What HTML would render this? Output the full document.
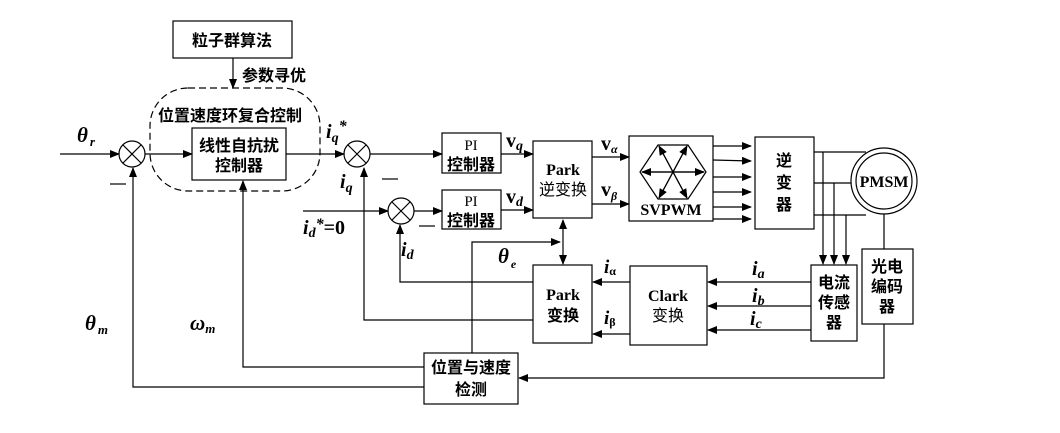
<!DOCTYPE html>
<html><head><meta charset="utf-8"><style>
body{margin:0;background:#fff}
svg{display:block}
.cn{font-family:"Liberation Serif","Noto Sans CJK SC",sans-serif;font-weight:bold;font-size:16px}
.it{font-family:"Liberation Serif",serif;font-weight:bold;font-style:italic}
.rb{font-family:"Liberation Serif",serif;font-weight:bold}
</style></head><body>
<svg width="1060" height="433" viewBox="0 0 1060 433" xmlns="http://www.w3.org/2000/svg">
<defs><marker id="a" markerWidth="10" markerHeight="8" refX="9" refY="4" orient="auto" markerUnits="userSpaceOnUse"><path d="M0,0 L10,4 L0,8z" fill="#000"/></marker></defs>
<g stroke="#000" stroke-width="1.2" fill="none">
<rect x="173" y="21" width="119" height="37" fill="#fff"/>
<line x1="233" y1="58" x2="233" y2="88" marker-end="url(#a)"/>
<rect x="150" y="88" width="170" height="103" rx="38" stroke-dasharray="7,4"/>
<rect x="192" y="128" width="94" height="52"/>
<circle cx="132" cy="154" r="13"/><path d="M123,145 L141,163 M141,145 L123,163"/>
<circle cx="357" cy="154" r="13"/><path d="M348,145 L366,163 M366,145 L348,163"/>
<circle cx="401" cy="211" r="13"/><path d="M392,202 L410,220 M410,202 L392,220"/>
<line x1="60" y1="154" x2="119" y2="154" marker-end="url(#a)"/>
<line x1="145" y1="154" x2="192" y2="154" marker-end="url(#a)"/>
<line x1="286" y1="154" x2="344" y2="154" marker-end="url(#a)"/>
<line x1="370" y1="154" x2="442" y2="154" marker-end="url(#a)"/>
<line x1="303" y1="211" x2="388" y2="211" marker-end="url(#a)"/>
<line x1="414" y1="211" x2="442" y2="211" marker-end="url(#a)"/>
<rect x="442" y="133" width="59" height="40"/>
<rect x="442" y="190" width="59" height="39"/>
<line x1="501" y1="154" x2="533" y2="154" marker-end="url(#a)"/>
<line x1="501" y1="210" x2="533" y2="210" marker-end="url(#a)"/>
<rect x="533" y="141" width="59" height="77"/>
<line x1="592" y1="157" x2="629" y2="157" marker-end="url(#a)"/>
<line x1="592" y1="204" x2="629" y2="204" marker-end="url(#a)"/>
<rect x="629" y="136" width="84" height="85"/>
<polygon points="640,172 658,145 688,145 706,172 688,199 658,199"/>
<line x1="642" y1="172" x2="704" y2="172" marker-end="url(#a)"/>
<line x1="704" y1="172" x2="642" y2="172" marker-end="url(#a)"/>
<line x1="659" y1="198" x2="687" y2="146" marker-end="url(#a)"/>
<line x1="687" y1="146" x2="659" y2="198" marker-end="url(#a)"/>
<line x1="659" y1="146" x2="687" y2="198" marker-end="url(#a)"/>
<line x1="687" y1="198" x2="659" y2="146" marker-end="url(#a)"/>
<line x1="713" y1="146" x2="751" y2="146" marker-end="url(#a)"/>
<line x1="713" y1="160" x2="751" y2="161" marker-end="url(#a)"/>
<line x1="713" y1="177" x2="751" y2="177" marker-end="url(#a)"/>
<line x1="713" y1="192" x2="751" y2="192" marker-end="url(#a)"/>
<line x1="713" y1="207" x2="751" y2="207" marker-end="url(#a)"/>
<line x1="713" y1="219" x2="751" y2="219" marker-end="url(#a)"/>
<rect x="755" y="137" width="59" height="92"/>
<circle cx="884" cy="181" r="33"/><circle cx="884" cy="181" r="28"/>
<line x1="814" y1="152" x2="866" y2="152"/>
<line x1="814" y1="183" x2="851" y2="183"/>
<line x1="814" y1="215" x2="866" y2="215"/>
<line x1="823" y1="152" x2="823" y2="264" marker-end="url(#a)"/>
<line x1="834" y1="183" x2="834" y2="264" marker-end="url(#a)"/>
<line x1="846" y1="215" x2="846" y2="264" marker-end="url(#a)"/>
<line x1="884" y1="214" x2="884" y2="249"/>
<rect x="862" y="249" width="51" height="75"/>
<rect x="811" y="265" width="46" height="76"/>
<rect x="630" y="266" width="77" height="79"/>
<rect x="533" y="265" width="59" height="78"/>
<line x1="811" y1="282" x2="708" y2="282" marker-end="url(#a)"/>
<line x1="811" y1="306" x2="708" y2="306" marker-end="url(#a)"/>
<line x1="811" y1="330" x2="708" y2="330" marker-end="url(#a)"/>
<line x1="630" y1="282" x2="593" y2="282" marker-end="url(#a)"/>
<line x1="630" y1="334" x2="593" y2="334" marker-end="url(#a)"/>
<line x1="563" y1="240" x2="563" y2="220" marker-end="url(#a)"/>
<line x1="563" y1="240" x2="563" y2="264" marker-end="url(#a)"/>
<polyline points="472,353 472,242 560,242" marker-end="url(#a)"/>
<polyline points="533,282 400,282 400,225" marker-end="url(#a)"/>
<polyline points="533,320 364,320 364,168" marker-end="url(#a)"/>
<rect x="424" y="353" width="94" height="51"/>
<polyline points="884,324 884,378 519,378" marker-end="url(#a)"/>
<polyline points="424,367 243,367 243,181" marker-end="url(#a)"/>
<polyline points="424,387 133,387 133,168" marker-end="url(#a)"/>
<line x1="110" y1="184" x2="126" y2="184"/>
<line x1="382" y1="179" x2="398" y2="179"/>
<line x1="419" y1="226" x2="435" y2="226"/>
</g>
<g fill="#000">
<text class="cn" x="232" y="46" text-anchor="middle">粒子群算法</text>
<text class="cn" x="242" y="81" font-size="15">参数寻优</text>
<text class="cn" x="158" y="121">位置速度环复合控制</text>
<text class="cn" x="239" y="151" text-anchor="middle">线性自抗扰</text>
<text class="cn" x="239" y="171" text-anchor="middle">控制器</text>
<text class="rb" x="471" y="150" text-anchor="middle" font-size="15" style="font-weight:normal">PI</text>
<text class="cn" x="471" y="170" text-anchor="middle">控制器</text>
<text class="rb" x="471" y="206" text-anchor="middle" font-size="15" style="font-weight:normal">PI</text>
<text class="cn" x="471" y="226" text-anchor="middle">控制器</text>
<text class="rb" x="563" y="175" text-anchor="middle" font-size="16">Park</text>
<text class="cn" x="563" y="195" text-anchor="middle" style="font-weight:normal">逆变换</text>
<text class="rb" x="671" y="215" text-anchor="middle" font-size="16">SVPWM</text>
<text class="cn" x="784" y="166" text-anchor="middle" font-size="17">逆</text>
<text class="cn" x="784" y="188" text-anchor="middle" font-size="17">变</text>
<text class="cn" x="784" y="210" text-anchor="middle" font-size="17">器</text>
<text class="rb" x="884" y="187" text-anchor="middle" font-size="16">PMSM</text>
<text class="cn" x="887" y="272" text-anchor="middle">光电</text>
<text class="cn" x="887" y="292" text-anchor="middle">编码</text>
<text class="cn" x="887" y="312" text-anchor="middle">器</text>
<text class="cn" x="834" y="288" text-anchor="middle">电流</text>
<text class="cn" x="834" y="308" text-anchor="middle">传感</text>
<text class="cn" x="834" y="328" text-anchor="middle">器</text>
<text class="rb" x="668" y="301" text-anchor="middle" font-size="16">Clark</text>
<text class="cn" x="668" y="321" text-anchor="middle" style="font-weight:normal">变换</text>
<text class="rb" x="563" y="300" text-anchor="middle" font-size="16">Park</text>
<text class="cn" x="563" y="321" text-anchor="middle">变换</text>
<text class="cn" x="471" y="373" text-anchor="middle">位置与速度</text>
<text class="cn" x="471" y="395" text-anchor="middle">检测</text>
<text class="it" x="77" y="142" font-size="21">θ<tspan font-size="13" dx="2" dy="4">r</tspan></text>
<text class="it" x="85" y="330" font-size="21">θ<tspan font-size="13" dx="2" dy="4">m</tspan></text>
<text class="it" x="190" y="330" font-size="21">ω<tspan font-size="13" dy="3">m</tspan></text>
<text class="it" x="326" y="138" font-size="20">i<tspan font-size="14" dy="4">q</tspan><tspan font-size="16" dy="-11">*</tspan></text>
<text class="it" x="340" y="188" font-size="20">i<tspan font-size="14" dy="4">q</tspan></text>
<text class="it" x="303" y="234" font-size="20">i<tspan font-size="14" dy="3">d</tspan><tspan font-size="16" dy="-8">*</tspan><tspan font-style="normal" dy="5">=0</tspan></text>
<text class="it" x="401" y="256" font-size="20">i<tspan font-size="14" dy="3">d</tspan></text>
<text class="it" x="498" y="263" font-size="21">θ<tspan font-size="12" dx="2" dy="5">e</tspan></text>
<text class="rb" x="506" y="147" font-size="20">v<tspan class="it" font-size="14" dy="3">q</tspan></text>
<text class="rb" x="506" y="203" font-size="20">v<tspan class="it" font-size="14" dy="3">d</tspan></text>
<text class="rb" x="601" y="150" font-size="20">v<tspan class="it" font-size="12" dy="3">α</tspan></text>
<text class="rb" x="601" y="196" font-size="20">v<tspan class="it" font-size="12" dy="4">β</tspan></text>
<text class="it" x="604" y="273" font-size="19">i<tspan font-size="12" dy="2" font-style="normal">α</tspan></text>
<text class="it" x="604" y="324" font-size="19">i<tspan font-size="12" dy="2" font-style="normal">β</tspan></text>
<text class="it" x="752" y="275" font-size="20">i<tspan font-size="14" dy="3">a</tspan></text>
<text class="it" x="752" y="302" font-size="20">i<tspan font-size="14" dy="3">b</tspan></text>
<text class="it" x="750" y="325" font-size="20">i<tspan font-size="14" dy="3">c</tspan></text>
</g>
</svg>
</body></html>
